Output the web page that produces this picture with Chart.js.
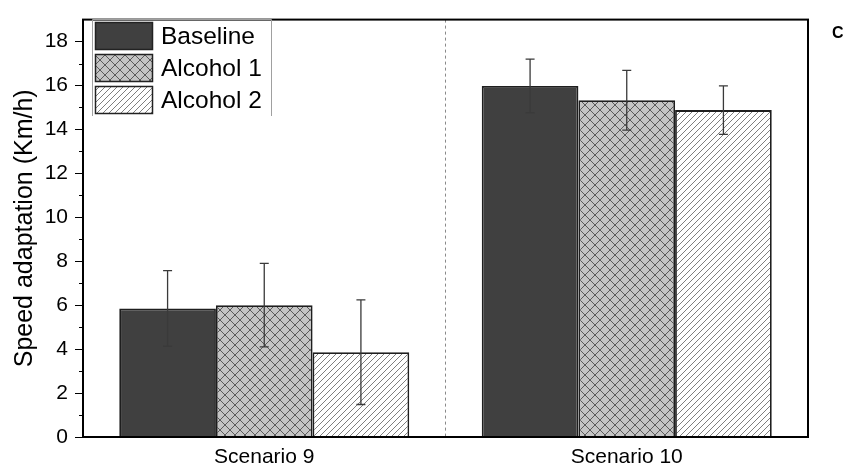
<!DOCTYPE html>
<html>
<head>
<meta charset="utf-8">
<script src="https://cdn.jsdelivr.net/npm/chart.js@4"></script>
<style>
  html, body { margin: 0; padding: 0; background: #fff; }
  #wrap { width: 847px; height: 472px; }
</style>
</head>
<body>
<div id="wrap"><canvas id="myChart" width="847" height="472"></canvas></div>
<script>
const categories = ["Scenario 9", "Scenario 10"];
const seriesNames = ["Baseline", "Alcohol 1", "Alcohol 2"];
const baseline = [5.85, 15.98];
const alcohol1 = [6.0, 15.33];
const alcohol2 = [3.86, 14.88];
const baselineErr = [1.72, 1.22];
const alcohol1Err = [1.9, 1.36];
const alcohol2Err = [2.38, 1.1];
const yTicks = [0, 2, 4, 6, 8, 10, 12, 14, 16, 18];

const FONT = "'Liberation Sans', Arial, sans-serif";

// hatch patterns
function crossHatch() {
  const s = 10;
  const c = document.createElement("canvas");
  c.width = s; c.height = s;
  const g = c.getContext("2d");
  g.fillStyle = "#c4c4c4";
  g.fillRect(0, 0, s, s);
  g.strokeStyle = "#5a5a5a";
  g.lineWidth = 1;
  g.beginPath();
  g.moveTo(0, 0); g.lineTo(s, s);
  g.moveTo(0, s); g.lineTo(s, 0);
  g.stroke();
  return g.createPattern(c, "repeat");
}
function slashHatch() {
  const s = 6;
  const c = document.createElement("canvas");
  c.width = s; c.height = s;
  const g = c.getContext("2d");
  g.fillStyle = "#ffffff";
  g.fillRect(0, 0, s, s);
  g.strokeStyle = "#707070";
  g.lineWidth = 0.9;
  g.beginPath();
  g.moveTo(-1, s + 1); g.lineTo(s + 1, -1);
  g.moveTo(-1, 1); g.lineTo(1, -1);
  g.moveTo(s - 1, s + 1); g.lineTo(s + 1, s - 1);
  g.stroke();
  return g.createPattern(c, "repeat");
}

const fills = ["#404040", crossHatch(), slashHatch()];
const errs = [baselineErr, alcohol1Err, alcohol2Err];

const errorBars = {
  id: "errorBars",
  afterDatasetsDraw(chart) {
    const ctx = chart.ctx;
    const y = chart.scales.y;
    ctx.save();
    ctx.strokeStyle = "#3a3a3a";
    ctx.lineWidth = 1.3;
    chart.data.datasets.forEach((ds, i) => {
      const meta = chart.getDatasetMeta(i);
      meta.data.forEach((bar, j) => {
        const v = ds.data[j], e = errs[i][j];
        const top = y.getPixelForValue(v + e);
        const bot = y.getPixelForValue(v - e);
        ctx.beginPath();
        ctx.moveTo(bar.x, top); ctx.lineTo(bar.x, bot);
        ctx.moveTo(bar.x - 4.5, top); ctx.lineTo(bar.x + 4.5, top);
        ctx.moveTo(bar.x - 4.5, bot); ctx.lineTo(bar.x + 4.5, bot);
        ctx.stroke();
      });
    });
    ctx.restore();
  }
};

const decor = {
  id: "decor",
  afterDraw(chart) {
    const ctx = chart.ctx;
    const a = chart.chartArea;
    const y = chart.scales.y;
    ctx.save();
    // minor ticks
    ctx.strokeStyle = "#000";
    ctx.lineWidth = 1;
    ctx.beginPath();
    for (let v = 1; v < 18; v += 2) {
      const py = Math.round(y.getPixelForValue(v)) + 0.5;
      ctx.moveTo(a.left - 4, py); ctx.lineTo(a.left, py);
    }
    ctx.stroke();
    // frame
    ctx.lineWidth = 2;
    ctx.strokeRect(a.left, a.top, a.right - a.left, a.bottom - a.top);
    // legend
    const lx = 92, ly = 19;
    ctx.strokeStyle = "#a0a0a0";
    ctx.lineWidth = 1;
    ctx.beginPath();
    ctx.moveTo(lx + 0.5, 116); ctx.lineTo(lx + 0.5, ly + 0.5);
    ctx.lineTo(271.5, ly + 0.5); ctx.lineTo(271.5, 116);
    ctx.stroke();
    ctx.font = "24.5px " + FONT;
    ctx.textBaseline = "middle";
    ctx.fillStyle = "#000";
    chart.data.datasets.forEach((ds, i) => {
      const by = 22 + i * 32;
      ctx.fillStyle = ds.backgroundColor;
      ctx.fillRect(95, by, 58, 28);
      ctx.strokeStyle = "#222";
      ctx.lineWidth = 1.5;
      ctx.strokeRect(95.5, by + 0.5, 57, 27);
      ctx.fillStyle = "#000";
      ctx.fillText(ds.label, 161, by + 15);
    });
    // y title
    ctx.save();
    ctx.translate(32, (a.top + a.bottom) / 2);
    ctx.rotate(-Math.PI / 2);
    ctx.textAlign = "center";
    ctx.textBaseline = "alphabetic";
    ctx.font = "25px " + FONT;
    ctx.fillText("Speed adaptation (Km/h)", 0, 0);
    ctx.restore();
    // panel letter
    ctx.font = "bold 16px " + FONT;
    ctx.textAlign = "left";
    ctx.textBaseline = "middle";
    ctx.fillText("C", 832, 34);
    ctx.restore();
  }
};

new Chart(document.getElementById("myChart"), {
  type: "bar",
  data: {
    labels: categories,
    datasets: [
      { label: seriesNames[0], data: baseline, backgroundColor: fills[0] },
      { label: seriesNames[1], data: alcohol1, backgroundColor: fills[1] },
      { label: seriesNames[2], data: alcohol2, backgroundColor: fills[2] }
    ]
  },
  options: {
    responsive: false,
    animation: false,
    devicePixelRatio: 1,
    layout: { padding: { left: 0, right: 39, top: 11, bottom: 0 } },
    datasets: {
      bar: {
        borderColor: "#1e1e1e",
        borderWidth: 1.8,
        categoryPercentage: 0.8,
        barPercentage: 1.0
      }
    },
    plugins: {
      legend: { display: false },
      tooltip: { enabled: false }
    },
    scales: {
      x: {
        afterFit: s => { s.height = 35; },
        grid: {
          drawTicks: false,
          color: c => (c.index === 1 ? "#8a8a8a" : "rgba(0,0,0,0)"),
          lineWidth: 1
        },
        border: { display: false, dash: [3, 3] },
        ticks: { color: "#000", padding: 8, font: { family: FONT, size: 21 } }
      },
      y: {
        min: 0,
        max: 19,
        afterFit: s => { s.width = 83; },
        afterBuildTicks: s => { s.ticks = yTicks.map(v => ({ value: v })); },
        grid: { drawOnChartArea: false, tickLength: 8, tickColor: "#000" },
        border: { display: false },
        ticks: { color: "#000", padding: 7, font: { family: FONT, size: 21 } }
      }
    }
  },
  plugins: [errorBars, decor]
});
</script>
</body>
</html>
